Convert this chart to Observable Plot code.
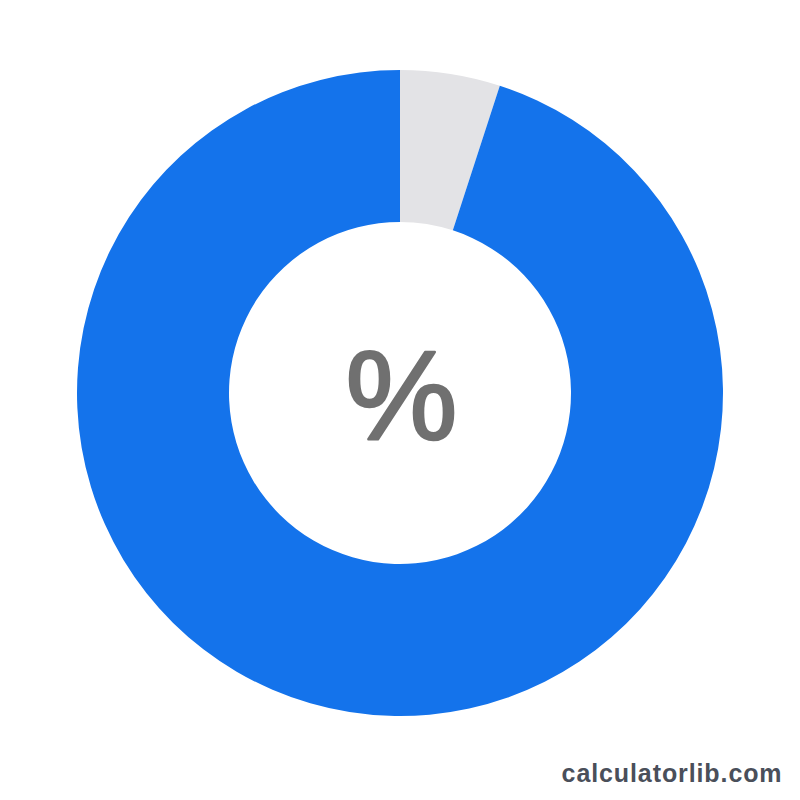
<!DOCTYPE html>
<html>
<head>
<meta charset="utf-8">
<script src="https://cdn.jsdelivr.net/npm/d3@7"></script>
<script src="https://cdn.jsdelivr.net/npm/@observablehq/plot@0.6"></script>
<style>
  html, body { margin: 0; padding: 0; background: #ffffff; }
  #chart svg { display: block; }
</style>
</head>
<body>
<div id="chart"></div>
<script>
// Data
const categories = ["Remaining", "Percentage"];
const values = [5, 95];
const colors = ["#E3E3E6", "#1473EB"];
const centerLabel = "%";
const watermark = "calculatorlib.com";

const data = categories.map((c, i) => ({ name: c, value: values[i] }));
const total = d3.sum(values);

const W = 800, H = 800;
const cx = 400, cy = 393, rInner = 171, rOuter = 323;

function donutRender(index, scales, v) {
  const g = d3.create("svg:g").attr("transform", `translate(${cx},${cy})`);
  const arc = d3.arc().innerRadius(rInner).outerRadius(rOuter);
  g.selectAll("path")
    .data(index)
    .join("path")
    .attr("d", i => arc({ startAngle: v.x1[i], endAngle: v.x2[i] }))
    .attr("fill", i => v.fill[i]);
  return g.node();
}

function spaced(px) {
  return (index, scales, values, dims, ctx, next) => {
    const g = next(index, scales, values, dims, ctx);
    g.setAttribute("letter-spacing", px);
    return g;
  };
}

const chart = Plot.plot({
  width: W,
  height: H,
  margin: 0,
  style: { background: "#ffffff" },
  x: { domain: [0, total], range: [0, 2 * Math.PI], axis: null },
  y: { axis: null },
  color: { domain: categories, range: colors },
  marks: [
    Plot.barX(data, Plot.stackX({ x: "value", fill: "name", render: donutRender })),
    Plot.text([centerLabel], {
      text: d => d,
      frameAnchor: "middle",
      lineAnchor: "middle",
      dx: 1,
      dy: -2,
      fontSize: 126,
      fontFamily: "Liberation Sans, Arial, sans-serif",
      fill: "#707070",
      stroke: "#707070",
      strokeWidth: 2.5,
      strokeLinejoin: "round"
    }),
    Plot.text([watermark], {
      text: d => d,
      frameAnchor: "bottom-right",
      textAnchor: "end",
      lineAnchor: "bottom",
      dx: -18,
      dy: -19,
      fontSize: 25,
      fontWeight: "bold",
      fontFamily: "Liberation Sans, Arial, sans-serif",
      fill: "#4A4F5A",
      render: spaced("0.9px")
    })
  ]
});

document.getElementById("chart").appendChild(chart);
</script>
</body>
</html>
